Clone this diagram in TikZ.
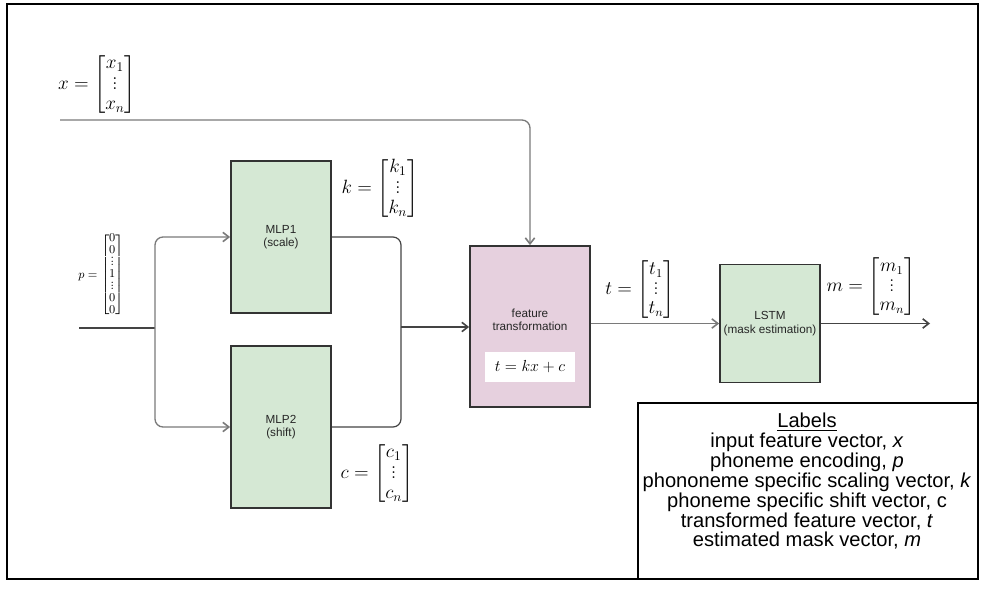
\documentclass[tikz,border=0pt]{standalone}
\usepackage{amsmath}
\usepackage[no-math]{fontspec}
\newfontfamily\arial{Liberation Sans}
\usetikzlibrary{arrows.meta}
\definecolor{boxgreen}{HTML}{D5E8D4}
\definecolor{boxpink}{HTML}{E6D0DE}
\definecolor{boxline}{HTML}{333333}
\definecolor{conngray}{HTML}{7A7A7A}
\definecolor{conndark}{HTML}{444444}
\newcommand{\tinyvdots}{\vbox{\baselineskip2.4pt\lineskiplimit0pt\kern0.5pt\hbox{.}\hbox{.}\hbox{.}}}
\newcommand{\midvdots}{\vbox{\baselineskip3.8pt\lineskiplimit0pt\kern2pt\hbox{.}\hbox{.}\hbox{.}}}
\begin{document}
\begin{tikzpicture}[x=0.75pt,y=-0.75pt,
  blockbox/.style={draw=boxline, line width=1.3pt, align=center, inner sep=0pt,
    font={\arial\fontsize{8.8pt}{10pt}\selectfont}, text=black!85},
  conn/.style={line width=1pt, rounded corners=6pt},
  tip/.style={-{Straight Barb[length=4.5pt,width=7pt,line width=1.2pt]}},
  mathlbl/.style={inner sep=0pt, font={\fontsize{14pt}{15pt}\selectfont}},
]
\useasboundingbox (0,0) rectangle (997,600);
\fill[white] (0,0) rectangle (997,600);
% outer frame
\draw[line width=0.8pt, black] (7,4) rectangle (978,579);

% blocks
\node[blockbox, fill=boxgreen, minimum width=75pt, minimum height=114pt] (mlp1) at (281,237) {MLP1\\(scale)};
\node[blockbox, fill=boxgreen, minimum width=75pt, minimum height=121.5pt] (mlp2) at (281,427) {MLP2\\(shift)};
\node[blockbox, fill=boxpink, minimum width=90pt, minimum height=120.75pt] (ft) at (530,326.5) {};
\node[inner sep=0pt, font={\arial\fontsize{8.8pt}{10pt}\selectfont}, align=center, text=black!85] (ftlbl) at (530,320) {feature\\transformation};
\node[fill=white, minimum width=67.5pt, minimum height=22.5pt, inner sep=0pt, font={\fontsize{13pt}{15pt}\selectfont}] (eq) at (530,367) {$t = kx + c$};
\node[blockbox, fill=boxgreen, minimum width=75pt, minimum height=88.5pt] (lstm) at (770,323.5) {LSTM\\(mask estimation)};

% labels box
\node[draw=black, line width=0.8pt, minimum width=255pt, minimum height=132pt, inner sep=0pt] (legend) at (808,491) {};
\node[align=center, inner sep=0pt, font={\arial\fontsize{15.1pt}{13.8pt}\selectfont}] (legtext) at (807,481)
 {\underline{Labels}\\
  input feature vector, \textit{x}\\
  phoneme encoding, \textit{p}\\
  phononeme specific scaling vector, \textit{k}\\
  phoneme specific shift vector, c\\
  transformed feature vector, \textit{t}\\
  estimated mask vector, \textit{m}};

% math labels
\node[mathlbl] (xlbl) at (97,85) {$x = \begin{bmatrix} x_1\\ \midvdots\\ x_n\end{bmatrix}$};
\node[mathlbl] (klbl) at (380,189) {$k = \begin{bmatrix} k_1\\ \midvdots\\ k_n\end{bmatrix}$};
\node[mathlbl, font={\fontsize{14pt}{15.5pt}\selectfont}] (clbl) at (377,474) {$c = \begin{bmatrix} c_1\\ \midvdots\\ c_n\end{bmatrix}$};
\node[mathlbl, font={\fontsize{13.5pt}{14.3pt}\selectfont}] (tlbl) at (640,290) {$t = \begin{bmatrix} t_1\\ \midvdots\\ t_n\end{bmatrix}$};
\node[mathlbl, font={\fontsize{13.5pt}{14.3pt}\selectfont}] (mlbl) at (871,287) {$m = \begin{bmatrix} m_1\\ \midvdots\\ m_n\end{bmatrix}$};
\node[inner sep=0pt, font={\fontsize{9pt}{10.5pt}\selectfont}] (plbl) at (101,275)
 {\renewcommand{\arraystretch}{0.86}\setlength{\arraycolsep}{1.5pt}$p = \begin{bmatrix} 0\\ 0\\ \tinyvdots\\ 1\\ \tinyvdots\\ 0\\ 0\end{bmatrix}$};

% coordinates
\coordinate (xin) at (60,120);
\coordinate (xbend) at (530,120);
\coordinate (pin) at (79,328);
\coordinate (psplit) at (155,328);
\coordinate (merge) at (401,327);
\coordinate (mout) at (930,323.5);

% connectors
\draw[conn, conngray, tip] (xin) -- (xbend) -- (ft.north);
\draw[conn, conndark] (pin) -- (psplit);
\draw[conn, conngray, tip] (psplit) |- (mlp1.west);
\draw[conn, conngray, tip] (psplit) |- (mlp2.west);
\draw[conn, conndark, line width=0.9pt] (mlp1.east) -| (merge);
\draw[conn, conndark, line width=0.9pt] (mlp2.east) -| (merge);
\draw[conn, conndark, tip] (merge) -- (merge -| ft.west);
\draw[conn, conngray, tip] (ft.east |- lstm.west) -- (lstm.west);
\draw[conn, conndark, tip] (lstm.east) -- (mout);
\end{tikzpicture}
\end{document}
